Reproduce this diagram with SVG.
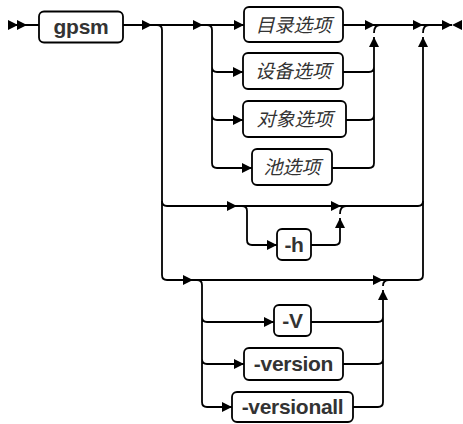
<svg xmlns="http://www.w3.org/2000/svg" xmlns:xlink="http://www.w3.org/1999/xlink" width="463" height="424" viewBox="0 0 463 424">
<style>
.ln{fill:none;stroke:#000;stroke-width:1.8}
.bx{fill:#fff;stroke:#000;stroke-width:1.8}
.lt{font-family:"Liberation Sans",Arial,sans-serif;font-weight:bold;font-size:21px;fill:#333;text-anchor:middle;letter-spacing:-0.3px}
.cj{font-family:"Liberation Sans","Noto Sans CJK SC",sans-serif;font-style:italic;font-size:19px;fill:#333;text-anchor:middle}
.ah{fill:#000}
</style>
<defs>
<path id="ar" class="ah" d="M0,0 L-10,-5 L-10,5 Z"/>
<path id="al" class="ah" d="M0,0 L10,-5 L10,5 Z"/>
<path id="au" class="ah" d="M0,0 L-5,10 L5,10 Z"/>
</defs>
<g id="connectors">
<path class="ln" d="M9,25 H39 M123,25 H244 M343,25 H452"/>
<path class="ln" d="M157,25 Q162,25 162,30 V275 Q162,280 167,280 H418 Q423,280 423,275 V37 M423,33 Q423,25 429,25"/>
<path class="ln" d="M162,201 Q162,206 167,206 H418 Q423,206 423,201"/>
<path class="ln" d="M242,206 Q247,206 247,211 V240 Q247,245 252,245 H277 M311,245 H335 Q340,245 340,240 V218 M340,214 Q340,206 346,206"/>
<path class="ln" d="M207,25 Q212,25 212,30 V163 Q212,168 217,168 H252 M212,67 Q212,72 217,72 H243 M212,115 Q212,120 217,120 H243"/>
<path class="ln" d="M343,72 H369 Q374,72 374,67 M346,120 H369 Q374,120 374,115 M332,168 H369 Q374,168 374,163 V37 M374,33 Q374,25 380,25"/>
<path class="ln" d="M197,280 Q202,280 202,285 V402 Q202,407 207,407 H232 M202,317 Q202,322 207,322 H274 M202,359 Q202,364 207,364 H244"/>
<path class="ln" d="M311,322 H378 Q383,322 383,317 M343,364 H378 Q383,364 383,359 M353,407 H378 Q383,407 383,402 V290 M383,286 Q383,280 389,280"/>
<use xlink:href="#ar" x="18" y="25"/>
<use xlink:href="#ar" x="27" y="25"/>
<use xlink:href="#ar" x="152" y="25"/>
<use xlink:href="#ar" x="203" y="25"/>
<use xlink:href="#ar" x="244" y="25"/>
<use xlink:href="#ar" x="243" y="72"/>
<use xlink:href="#ar" x="243" y="120"/>
<use xlink:href="#ar" x="252" y="168"/>
<use xlink:href="#ar" x="375" y="25"/>
<use xlink:href="#au" x="374" y="37"/>
<use xlink:href="#ar" x="423" y="25"/>
<use xlink:href="#au" x="423" y="37"/>
<use xlink:href="#ar" x="452" y="25"/>
<use xlink:href="#al" x="452" y="25"/>
<use xlink:href="#ar" x="237" y="206"/>
<use xlink:href="#ar" x="277" y="245"/>
<use xlink:href="#ar" x="341" y="206"/>
<use xlink:href="#au" x="340" y="218"/>
<use xlink:href="#ar" x="193" y="280"/>
<use xlink:href="#ar" x="274" y="322"/>
<use xlink:href="#ar" x="244" y="364"/>
<use xlink:href="#ar" x="232" y="407"/>
<use xlink:href="#ar" x="383" y="280"/>
<use xlink:href="#au" x="383" y="290"/>
</g>
<g id="gpsm"><rect class="bx" x="39" y="11.5" width="84" height="31" rx="5"/><text class="lt" x="81" y="33.5">gpsm</text></g>
<g id="mulu"><rect class="bx" x="244" y="7" width="99" height="35" rx="5"/><text class="cj" x="293.5" y="31.5">目录选项</text></g>
<g id="shebei"><rect class="bx" x="243" y="53" width="100" height="36" rx="5"/><text class="cj" x="293" y="78">设备选项</text></g>
<g id="duixiang"><rect class="bx" x="243" y="101" width="103" height="36" rx="5"/><text class="cj" x="294.5" y="126">对象选项</text></g>
<g id="chi"><rect class="bx" x="252" y="149" width="80" height="36" rx="5"/><text class="cj" x="292" y="174">池选项</text></g>
<g id="h"><rect class="bx" x="277" y="229" width="34" height="31" rx="5"/><text class="lt" x="294" y="252">-h</text></g>
<g id="V"><rect class="bx" x="274" y="305" width="37" height="31" rx="5"/><text class="lt" x="292.5" y="328">-V</text></g>
<g id="version"><rect class="bx" x="244" y="348" width="99" height="32" rx="5"/><text class="lt" x="293.5" y="371">-version</text></g>
<g id="versionall"><rect class="bx" x="232" y="392" width="121" height="30" rx="5"/><text class="lt" x="292.5" y="414">-versionall</text></g>
</svg>
